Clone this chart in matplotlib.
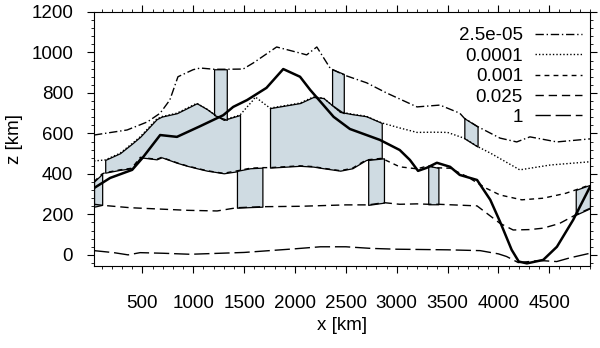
import numpy as np
import matplotlib
matplotlib.use("Agg")
import matplotlib.pyplot as plt
from matplotlib.ticker import MultipleLocator

plt.rcParams['font.family'] = ['Liberation Sans', 'DejaVu Sans']

# contour curves (x in km, z in km)
x_a = [25, 350, 550, 675, 770, 850, 1000, 1070, 1205, 1330, 1490, 1590, 1820, 2050, 2115, 2215,
       2345, 2365, 2480, 2705, 2900, 3200, 3425, 3620, 3665, 3795, 4015, 4180, 4310, 4575, 4900]
z_a = [592, 617, 657, 700, 765, 880, 915, 923, 917, 917, 918, 948, 1027, 997, 988, 1027,
       923, 917, 889, 850, 800, 731, 740, 700, 675, 634, 577, 558, 583, 558, 573]

x_b = [25, 135, 280, 400, 480, 640, 690, 840, 940, 1035, 1135, 1215, 1300, 1460, 1590, 1610, 1755,
       2050, 2180, 2280, 2445, 2565, 2700, 2853, 3030, 3200, 3360, 3500, 3665, 3795, 3920, 4210, 4510, 4900]
z_b = [464, 469, 502, 550, 584, 670, 683, 700, 725, 749, 720, 691, 667, 691, 765, 780, 725,
       750, 780, 775, 706, 695, 685, 652, 627, 605, 606, 605, 576, 535, 503, 420, 444, 460]

x_c = [25, 105, 135, 280, 396, 480, 642, 690, 840, 937, 1035, 1133, 1296, 1430, 1559, 1680, 1755,
       2050, 2180, 2280, 2445, 2565, 2700, 2853, 3030, 3200, 3310, 3410, 3525, 3690, 3880, 4015,
       4230, 4440, 4660, 4760, 4900]
z_c = [362, 400, 406, 420, 428, 482, 472, 482, 455, 440, 428, 416, 403, 415, 428, 431, 431,
       440, 436, 428, 416, 428, 469, 477, 435, 425, 440, 430, 428, 387, 329, 296,
       272, 280, 304, 321, 346]

x_d = [25, 105, 380, 950, 1235, 1430, 1680, 2050, 2500, 2720, 2875, 3030, 3200, 3310, 3410,
       3790, 4015, 4145, 4310, 4440, 4600, 4760, 4900]
z_d = [250, 245, 233, 220, 217, 233, 238, 240, 247, 247, 258, 250, 252, 250, 250,
       242, 156, 123, 125, 132, 155, 198, 230]

x_e = [25, 220, 360, 478, 705, 970, 1500, 2000, 2250, 2500, 2750, 3000, 3500, 3820, 4000,
       4080, 4195, 4410, 4573, 4700, 4900]
z_e = [21, 11, 0, 11, 8, 3, 12, 30, 40, 40, 32, 28, 25, 21, 5,
       -8, -38, -28, -33, -15, 8]

# thick solid curve
x_s = [25, 183, 400, 500, 675, 840, 1065, 1295, 1393, 1530, 1720, 1885, 2050, 2150, 2380, 2540,
       2835, 3030, 3130, 3210, 3295, 3395, 3525, 3620, 3790, 3920, 4015, 4130, 4200, 4280,
       4440, 4575, 4735, 4900]
z_s = [330, 380, 420, 478, 592, 583, 635, 690, 731, 765, 825, 918, 880, 815, 682, 622,
       568, 518, 469, 415, 430, 455, 435, 395, 370, 272, 165, 25, -33, -42,
       -25, 40, 173, 336]

levels = ['2.5e-05', '0.0001', '0.001', '0.025', '1']

# shaded regions: x, upper edge, lower edge
shade_x = [[25, 105],
           [135, 280, 400, 480, 640, 690, 840, 940, 1035, 1135, 1215, 1300, 1460],
           [1205, 1330],
           [1430, 1560, 1680],
           [1755, 2050, 2180, 2280, 2445, 2565, 2700, 2853],
           [2365, 2480],
           [2720, 2875],
           [3310, 3410],
           [3665, 3795],
           [4760, 4900]]
shade_top = [[362, 400],
             [469, 502, 550, 584, 670, 683, 700, 725, 749, 720, 691, 667, 691],
             [917, 917],
             [415, 428, 431],
             [725, 750, 780, 775, 706, 695, 685, 652],
             [917, 894],
             [469, 477],
             [440, 430],
             [675, 634],
             [321, 346]]
shade_bot = [[238, 247],
             [406, 420, 428, 482, 472, 482, 455, 440, 428, 416, 410, 403, 415],
             [691, 667],
             [233, 236, 238],
             [431, 440, 436, 428, 416, 428, 469, 477],
             [740, 700],
             [247, 258],
             [250, 250],
             [576, 535],
             [198, 230]]

fig = plt.figure(figsize=(6, 3.48), dpi=100)
ax = fig.add_axes([0.1567, 0.2356, 0.8266, 0.73])

for xs, hi, lo in zip(shade_x, shade_top, shade_bot):
    ax.fill_between(xs, lo, hi, facecolor='#cfdbe2', edgecolor='black', linewidth=0.9, zorder=1)

styles = [(0, (6, 2, 1, 2)), (0, (1, 1.5)), (0, (3.5, 3)), (0, (6, 3.5)), (0, (11, 3.5))]
curves = [(x_a, z_a), (x_b, z_b), (x_c, z_c), (x_d, z_d), (x_e, z_e)]
for (xs, zs), ls, lab in zip(curves, styles, levels):
    ax.plot(xs, zs, color='black', linestyle=ls, linewidth=1, label=lab, zorder=2)

ax.plot(x_s, z_s, color='black', linewidth=1.8, zorder=3)

fs = 13.5
ax.set_xlim(25, 4900)
ax.set_ylim(-55, 1200)
ax.xaxis.set_major_locator(MultipleLocator(500))
ax.xaxis.set_minor_locator(MultipleLocator(100))
ax.yaxis.set_major_locator(MultipleLocator(200))
ax.yaxis.set_minor_locator(MultipleLocator(40))
ax.tick_params(which='both', direction='out', top=True, right=True, labelsize=fs)
ax.tick_params(which='major', length=5)
ax.tick_params(which='minor', length=2.5)
ax.tick_params(axis='x', pad=16)
ax.tick_params(axis='y', pad=10)

ax.set_xlabel('x [km]', fontsize=fs)
ax.set_ylabel('z [km]', fontsize=fs)
ax.xaxis.set_label_coords(0.5, -0.20)
ax.yaxis.set_label_coords(-0.143, 0.5)

ax.legend(loc='upper right', bbox_to_anchor=(0.984, 0.94), frameon=False, markerfirst=False,
          fontsize=fs, handlelength=2.5, handletextpad=0.65, labelspacing=0.175,
          borderpad=0, borderaxespad=0)

fig.savefig('out.png', dpi=100)
